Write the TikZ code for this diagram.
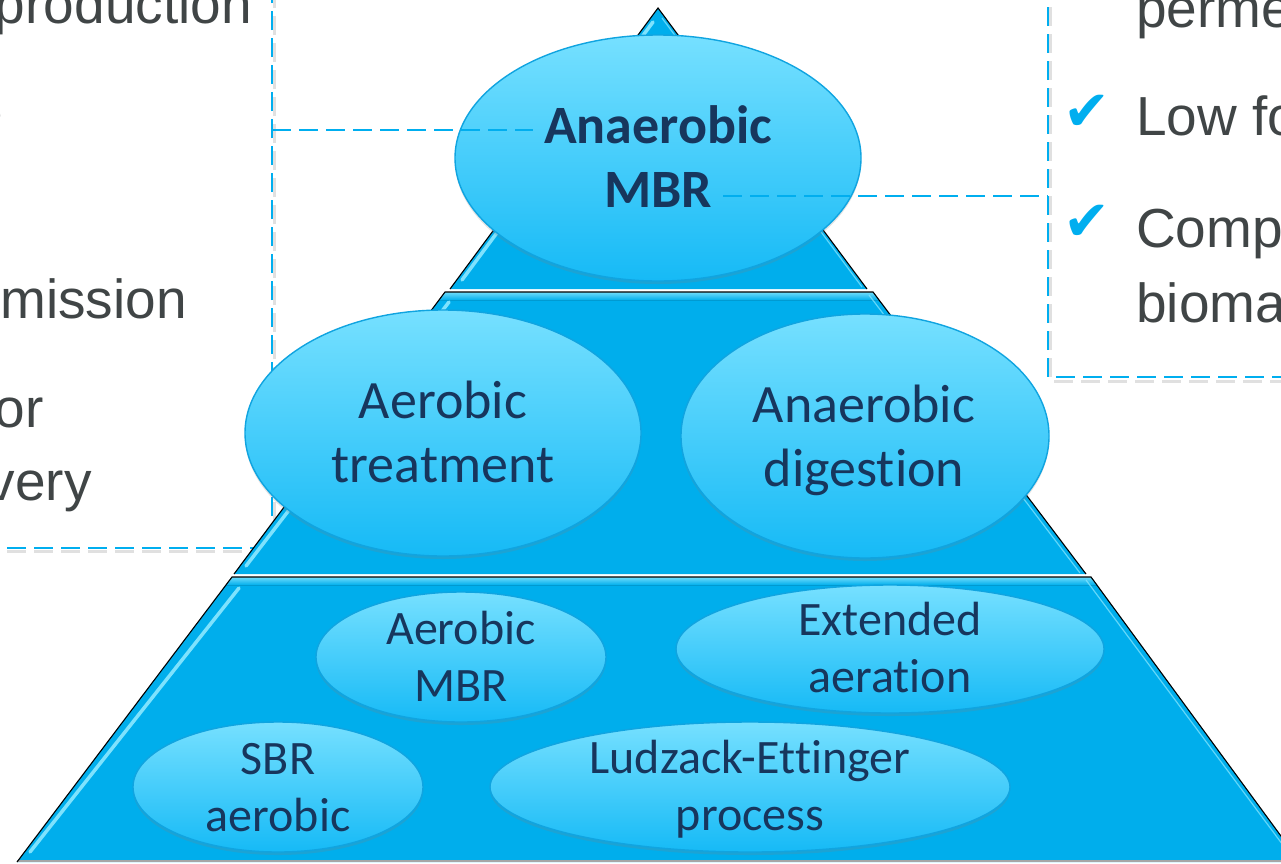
\documentclass[tikz,border=0pt]{standalone}
\usepackage{fontspec}
\setmainfont{Liberation Sans}
\newfontfamily\calib[Ligatures=NoCommon,Contextuals=NoAlternate,RawFeature={-dlig;-clig}]{Carlito}
\newfontfamily\djv{DejaVu Sans}
\usetikzlibrary{shapes.geometric,shadows}

\definecolor{tierblue}{RGB}{0,174,236}
\definecolor{ellTop}{RGB}{118,224,255}
\definecolor{ellBot}{RGB}{22,186,246}
\definecolor{ellLine}{RGB}{16,164,224}
\definecolor{navy}{RGB}{23,54,93}
\definecolor{sidegray}{RGB}{64,69,70}
\definecolor{dashcyan}{RGB}{0,174,239}
\definecolor{hilite}{RGB}{140,232,255}

\begin{document}
\begin{tikzpicture}[x=1pt,y=-1pt,
 tierfill/.style={fill=tierblue},
 tieredge/.style={draw=black,line width=1.1pt,line join=miter},
 bevel/.style={draw=hilite,line width=3.5pt,line cap=round,opacity=0.9},
 topband/.style={top color=hilite!80!tierblue,bottom color=tierblue},
 bubble/.style={ellipse,draw=ellLine,line width=1.4pt,top color=ellTop,bottom color=ellBot,inner sep=0pt,outer sep=0pt,
   drop shadow={opacity=0.22,shadow xshift=0pt,shadow yshift=-3pt}},
 bigtxt/.style={font=\calib\fontsize{54}{64}\selectfont,text=navy,inner sep=0pt,anchor=base},
 smalltxt/.style={font=\calib\fontsize{48}{57.5}\selectfont,text=navy,inner sep=0pt,anchor=base},
 sidetxt/.style={font=\fontsize{55}{66}\selectfont,text=sidegray,inner sep=0pt},
 callout/.style={draw=dashcyan,line width=2.8pt,dash pattern=on 19pt off 8pt},
 calloutshadow/.style={draw=black!30,line width=3pt,dash pattern=on 19pt off 8pt,opacity=0.4},
 tick/.style={font=\djv\fontsize{56}{60}\selectfont,text=dashcyan,inner sep=0pt,anchor=base west}
]
\useasboundingbox (0,0) rectangle (1281,863);
\clip (0,0) rectangle (1281,863);

% callout boxes (behind the pyramid)
\draw[calloutshadow] (-20,551) -- (274,551) -- (274,-20);
\draw[callout] (-20,548) -- (272,548) -- (272,-20);
\draw[calloutshadow] (1050,-20) -- (1050,381) -- (1300,381);
\draw[callout] (1048,-20) -- (1048,377) -- (1300,377);

% pyramid tiers
\fill[tierfill] (658,8) -- (867,289) -- (450,289) -- cycle;
\fill[tierfill] (445,292) -- (873,292) -- (1086,574) -- (234,574) -- cycle;
\fill[tierfill] (232,577) -- (1091,577) -- (1300,862) -- (17,862) -- cycle;
\fill[topband] (445,292) -- (873,292) -- (879,300) -- (439,300) -- cycle;
\fill[topband] (232,577) -- (1091,577) -- (1097,585) -- (226,585) -- cycle;
\draw[black!35,line width=1.5pt] (17,861) -- (1300,861);
\draw[bevel] (653,22) -- (462,280);
\draw[bevel] (449,302) -- (246,566);
\draw[bevel] (239,588) -- (30,852);
\draw[hilite,line width=1.2pt,opacity=0.7] (662,18) -- (862,287);
\draw[hilite,line width=1.2pt,opacity=0.7] (869,295) -- (1080,573);
\draw[hilite,line width=1.2pt,opacity=0.7] (1086,580) -- (1294,860);
\draw[tieredge] (450,289) -- (658,8) -- (867,289);
\draw[tieredge] (234,574) -- (445,292) -- (873,292) -- (1086,574);
\draw[tieredge] (17,862) -- (232,577) -- (1091,577) -- (1300,862);

% ellipses
\node[bubble,minimum width=406pt,minimum height=246pt] (amb) at (658,158) {};
\node[bubble,minimum width=396pt,minimum height=246pt] (aet) at (443,433) {};
\node[bubble,minimum width=368pt,minimum height=244pt] (adg) at (865,436) {};
\node[bubble,minimum width=290pt,minimum height=130pt] (amr) at (461,657) {};
\node[bubble,minimum width=428pt,minimum height=128pt] (ext) at (890,649) {};
\node[bubble,minimum width=290pt,minimum height=130pt] (sbr) at (278,787) {};
\node[bubble,minimum width=520pt,minimum height=130pt] (lep) at (750,787) {};

% ellipse texts
\node[bigtxt,font=\calib\bfseries\fontsize{54}{64}\selectfont] (amb-t) at (658,143) {\begin{tabular}[t]{@{}c@{}}Anaerobic\\MBR\end{tabular}};
\node[bigtxt] (aet-t) at (443,418) {\begin{tabular}[t]{@{}c@{}}Aerobic\\treatment\end{tabular}};
\node[bigtxt] (adg-t) at (864,422) {\begin{tabular}[t]{@{}c@{}}Anaerobic\\digest\kern0pt ion\end{tabular}};
\node[smalltxt] (amr-t) at (461,644) {\begin{tabular}[t]{@{}c@{}}Aerobic\\MBR\end{tabular}};
\node[smalltxt] (ext-t) at (890,635) {\begin{tabular}[t]{@{}c@{}}Extended\\aerat\kern0pt ion\end{tabular}};
\node[smalltxt] (sbr-t) at (278,774) {\begin{tabular}[t]{@{}c@{}}SBR\\aerobic\end{tabular}};
\node[smalltxt] (lep-t) at (750,773) {\begin{tabular}[t]{@{}c@{}}Ludzack-Et\kern0pt t\kern0pt inger\\process\end{tabular}};

% connectors from the callouts to the top ellipse
\coordinate (lbox) at (272,130);
\coordinate (lend) at (533,130);
\coordinate (rbox) at (1048,196);
\coordinate (rend) at (723,196);
\draw[callout] (lbox) -- (lend);
\draw[callout] (rend) -- (rbox);

% left callout text (cut by the picture's edge)
\node[sidetxt,anchor=base east] (l1) at (252,23) {production};
\node[sidetxt,anchor=base east] (l2) at (3,130) {e};
\node[sidetxt,anchor=base east] (l3) at (187,318) {mission};
\node[sidetxt,anchor=base east] (l4) at (44,427) {or};
\node[sidetxt,anchor=base east] (l5) at (92,500) {very};

% right callout text
\node[sidetxt,anchor=base west] (r1) at (1136,27) {perme};
\node[tick] (c1) at (1063,130) {✔};
\node[sidetxt,anchor=base west] (r2) at (1136,135) {Low fo};
\node[tick] (c2) at (1063,240) {✔};
\node[sidetxt,anchor=base west] (r3) at (1136,247) {Comp};
\node[sidetxt,anchor=base west] (r4) at (1136,322) {bioma};
\end{tikzpicture}
\end{document}
